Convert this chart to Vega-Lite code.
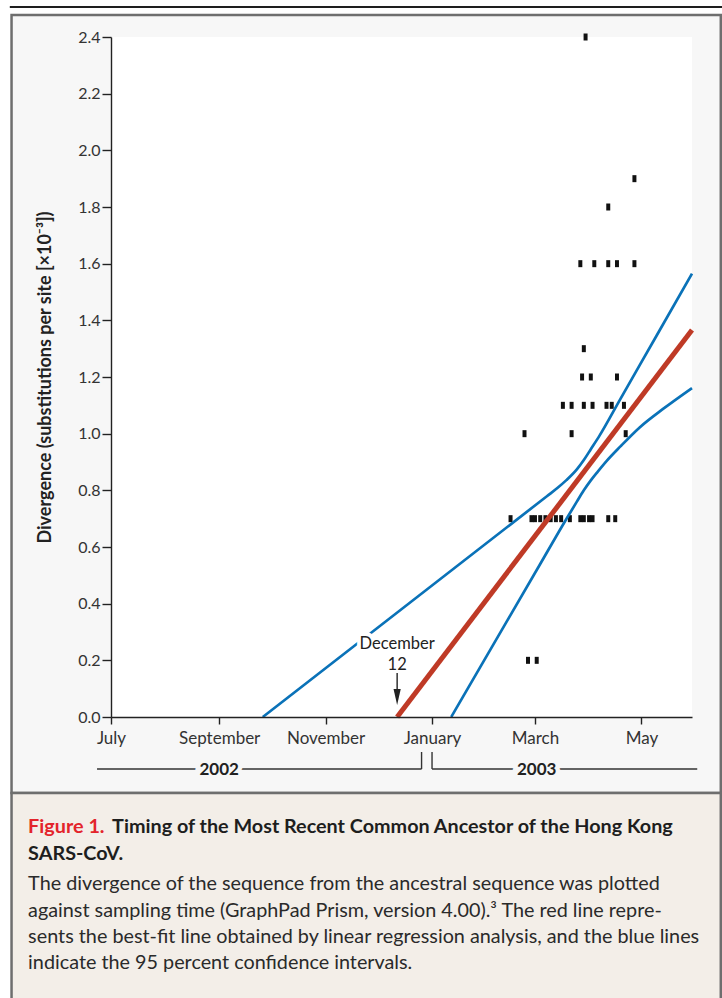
{
  "$schema": "https://vega.github.io/schema/vega-lite/v6.json",
  "width": 581,
  "height": 680,
  "autosize": {"type": "none"},
  "padding": {"left": 111, "top": 37, "right": 30, "bottom": 281},
  "background": "white",
  "config": {"view": {"stroke": null}, "font": "Lato"},
  "datasets": {
    "one": [{}],
    "points": [
      {"date": "2003-03-30T00:00", "divergence": 2.4},
      {"date": "2003-04-27T00:00", "divergence": 1.9},
      {"date": "2003-04-12T00:00", "divergence": 1.8},
      {"date": "2003-03-27T00:00", "divergence": 1.6},
      {"date": "2003-04-04T00:00", "divergence": 1.6},
      {"date": "2003-04-12T00:00", "divergence": 1.6},
      {"date": "2003-04-17T00:00", "divergence": 1.6},
      {"date": "2003-04-27T00:00", "divergence": 1.6},
      {"date": "2003-03-29T00:00", "divergence": 1.3},
      {"date": "2003-03-28T00:00", "divergence": 1.2},
      {"date": "2003-04-02T00:00", "divergence": 1.2},
      {"date": "2003-04-17T00:00", "divergence": 1.2},
      {"date": "2003-03-17T00:00", "divergence": 1.1},
      {"date": "2003-03-22T00:00", "divergence": 1.1},
      {"date": "2003-03-29T00:00", "divergence": 1.1},
      {"date": "2003-04-03T00:00", "divergence": 1.1},
      {"date": "2003-04-11T00:00", "divergence": 1.1},
      {"date": "2003-04-14T00:00", "divergence": 1.1},
      {"date": "2003-04-21T00:00", "divergence": 1.1},
      {"date": "2003-02-23T00:00", "divergence": 1.0},
      {"date": "2003-03-22T00:00", "divergence": 1.0},
      {"date": "2003-04-22T00:00", "divergence": 1.0},
      {"date": "2003-02-15T00:00", "divergence": 0.7},
      {"date": "2003-02-27T00:00", "divergence": 0.7},
      {"date": "2003-03-01T00:00", "divergence": 0.7},
      {"date": "2003-03-04T00:00", "divergence": 0.7},
      {"date": "2003-03-07T00:00", "divergence": 0.7},
      {"date": "2003-03-10T00:00", "divergence": 0.7},
      {"date": "2003-03-13T00:00", "divergence": 0.7},
      {"date": "2003-03-16T00:00", "divergence": 0.7},
      {"date": "2003-03-21T00:00", "divergence": 0.7},
      {"date": "2003-03-27T00:00", "divergence": 0.7},
      {"date": "2003-03-29T00:00", "divergence": 0.7},
      {"date": "2003-04-01T00:00", "divergence": 0.7},
      {"date": "2003-04-03T00:00", "divergence": 0.7},
      {"date": "2003-04-12T00:00", "divergence": 0.7},
      {"date": "2003-04-16T00:00", "divergence": 0.7},
      {"date": "2003-02-25T00:00", "divergence": 0.2},
      {"date": "2003-03-02T00:00", "divergence": 0.2}
    ],
    "lines": [
      {"series": "fit", "date": "2002-12-12T00:00", "divergence": 0},
      {"series": "fit", "date": "2003-05-30T00:00", "divergence": 1.366},
      {"series": "upper", "date": "2002-09-26T00:00", "divergence": 0},
      {"series": "upper", "date": "2003-03-08T00:00", "divergence": 0.78},
      {"series": "upper", "date": "2003-03-14T00:00", "divergence": 0.809},
      {"series": "upper", "date": "2003-03-19T00:00", "divergence": 0.836},
      {"series": "upper", "date": "2003-03-25T00:00", "divergence": 0.874},
      {"series": "upper", "date": "2003-03-29T00:00", "divergence": 0.907},
      {"series": "upper", "date": "2003-04-02T00:00", "divergence": 0.945},
      {"series": "upper", "date": "2003-04-07T00:00", "divergence": 0.993},
      {"series": "upper", "date": "2003-04-19T00:00", "divergence": 1.123},
      {"series": "upper", "date": "2003-05-10T00:00", "divergence": 1.349},
      {"series": "upper", "date": "2003-05-30T00:00", "divergence": 1.565},
      {"series": "lower", "date": "2003-01-12T00:00", "divergence": 0},
      {"series": "lower", "date": "2003-03-04T00:00", "divergence": 0.54},
      {"series": "lower", "date": "2003-03-19T00:00", "divergence": 0.699},
      {"series": "lower", "date": "2003-03-25T00:00", "divergence": 0.76},
      {"series": "lower", "date": "2003-03-29T00:00", "divergence": 0.8},
      {"series": "lower", "date": "2003-04-02T00:00", "divergence": 0.835},
      {"series": "lower", "date": "2003-04-06T00:00", "divergence": 0.866},
      {"series": "lower", "date": "2003-04-11T00:00", "divergence": 0.903},
      {"series": "lower", "date": "2003-04-19T00:00", "divergence": 0.955},
      {"series": "lower", "date": "2003-04-30T00:00", "divergence": 1.022},
      {"series": "lower", "date": "2003-05-14T00:00", "divergence": 1.09},
      {"series": "lower", "date": "2003-05-30T00:00", "divergence": 1.161}
    ]
  },
  "layer": [
    {
      "data": {"name": "one"},
      "mark": {"type": "rect", "fill": "#f7f7f7", "stroke": "#6e6e6e", "strokeWidth": 2.5},
      "encoding": {
        "x": {
          "datum": {"year": 2002, "month": 5, "date": 5},
          "type": "temporal",
          "scale": {"domain": [{"year": 2002, "month": 7, "date": 1}, {"year": 2003, "month": 5, "date": 30}], "nice": false},
          "axis": {
            "values": [
              {"year": 2002, "month": 7, "date": 1},
              {"year": 2002, "month": 9, "date": 1},
              {"year": 2002, "month": 11, "date": 1},
              {"year": 2003, "month": 1, "date": 1},
              {"year": 2003, "month": 3, "date": 1},
              {"year": 2003, "month": 5, "date": 1}
            ],
            "format": "%B",
            "title": null,
            "grid": false,
            "tickSize": 7,
            "tickWidth": 1.4,
            "tickColor": "#222",
            "domainColor": "#222",
            "domainWidth": 1.4,
            "labelPadding": 6,
            "labelFont": "Lato",
            "labelFontSize": 17,
            "labelColor": "#333",
            "labelFlush": false,
            "labelOverlap": false,
            "zindex": 1
          }
        },
        "x2": {"datum": {"year": 2003, "month": 6, "date": 15, "hours": 12}},
        "y": {
          "datum": 2.4776,
          "type": "quantitative",
          "scale": {"domain": [0, 2.4], "nice": false, "zero": false},
          "axis": {
            "values": [0, 0.2, 0.4, 0.6, 0.8, 1.0, 1.2, 1.4, 1.6, 1.8, 2.0, 2.2, 2.4],
            "format": ".1f",
            "title": "Divergence (substitutions per site [×10⁻³])",
            "titleFont": "Lato",
            "titleFontSize": 18,
            "titleFontWeight": "bold",
            "titleColor": "#222",
            "titlePadding": 23,
            "grid": false,
            "tickSize": 9,
            "tickWidth": 1.4,
            "tickColor": "#222",
            "domainColor": "#222",
            "domainWidth": 1.4,
            "labelPadding": 2,
            "labelFont": "Lato",
            "labelFontSize": 16,
            "labelColor": "#333",
            "labelFlush": false,
            "labelOverlap": false,
            "zindex": 1
          }
        },
        "y2": {"datum": -0.2682}
      }
    },
    {
      "data": {"name": "one"},
      "mark": {"type": "rect", "fill": "#f3eee8", "stroke": "#6e6e6e", "strokeWidth": 2.5},
      "encoding": {
        "x": {"datum": {"year": 2002, "month": 5, "date": 5}, "type": "temporal"},
        "x2": {"datum": {"year": 2003, "month": 6, "date": 15, "hours": 12}},
        "y": {"datum": -0.2682, "type": "quantitative"},
        "y2": {"datum": -1.03}
      }
    },
    {
      "data": {"name": "one"},
      "mark": {"type": "rule", "stroke": "#1e1e1e", "strokeWidth": 2},
      "encoding": {
        "x": {"datum": {"year": 2002, "month": 5, "date": 4}, "type": "temporal"},
        "x2": {"datum": {"year": 2003, "month": 6, "date": 17}},
        "y": {"datum": 2.5059, "type": "quantitative"}
      }
    },
    {
      "data": {"name": "one"},
      "mark": {"type": "rect", "fill": "white"},
      "encoding": {
        "x": {"datum": {"year": 2002, "month": 7, "date": 1}, "type": "temporal"},
        "x2": {"datum": {"year": 2003, "month": 5, "date": 30}},
        "y": {"datum": 0, "type": "quantitative"},
        "y2": {"datum": 2.4}
      }
    },
    {
      "data": {"name": "points"},
      "mark": {"type": "point", "shape": "M-0.57,-1H0.57V1H-0.57Z", "filled": true, "size": 49, "color": "#111", "opacity": 1},
      "encoding": {
        "x": {"field": "date", "type": "temporal"},
        "y": {"field": "divergence", "type": "quantitative"}
      }
    },
    {
      "data": {"name": "lines"},
      "transform": [{"filter": "datum.series !== 'fit'"}],
      "mark": {"type": "line", "stroke": "#0a72b8", "strokeWidth": 2.7, "interpolate": "monotone"},
      "encoding": {
        "x": {"field": "date", "type": "temporal"},
        "y": {"field": "divergence", "type": "quantitative"},
        "detail": {"field": "series"}
      }
    },
    {
      "data": {"name": "lines"},
      "transform": [{"filter": "datum.series === 'fit'"}],
      "mark": {"type": "line", "stroke": "#bf3a26", "strokeWidth": 5},
      "encoding": {
        "x": {"field": "date", "type": "temporal"},
        "y": {"field": "divergence", "type": "quantitative"}
      }
    },
    {
      "data": {"name": "one"},
      "mark": {"type": "text", "text": "December", "fontSize": 16.5, "font": "Lato", "align": "center", "baseline": "middle", "stroke": "white", "strokeWidth": 8, "strokeJoin": "round", "fill": "white"},
      "encoding": {
        "x": {"datum": {"year": 2002, "month": 12, "date": 12}, "type": "temporal"},
        "y": {"datum": 0.258, "type": "quantitative"}
      }
    },
    {
      "data": {"name": "one"},
      "mark": {"type": "text", "text": "December", "fontSize": 16.5, "font": "Lato", "align": "center", "baseline": "middle", "color": "#222"},
      "encoding": {
        "x": {"datum": {"year": 2002, "month": 12, "date": 12}, "type": "temporal"},
        "y": {"datum": 0.258, "type": "quantitative"}
      }
    },
    {
      "data": {"name": "one"},
      "mark": {"type": "text", "text": "12", "fontSize": 16.5, "font": "Lato", "align": "center", "baseline": "middle", "color": "#222"},
      "encoding": {
        "x": {"datum": {"year": 2002, "month": 12, "date": 12}, "type": "temporal"},
        "y": {"datum": 0.184, "type": "quantitative"}
      }
    },
    {
      "data": {"name": "one"},
      "mark": {"type": "rule", "stroke": "#222", "strokeWidth": 1.4},
      "encoding": {
        "x": {"datum": {"year": 2002, "month": 12, "date": 12}, "type": "temporal"},
        "y": {"datum": 0.155, "type": "quantitative"},
        "y2": {"datum": 0.09}
      }
    },
    {
      "data": {"name": "one"},
      "mark": {"type": "point", "shape": "M-0.45,-1L0.45,-1L0,1Z", "filled": true, "size": 256, "color": "#222", "opacity": 1},
      "encoding": {
        "x": {"datum": {"year": 2002, "month": 12, "date": 12}, "type": "temporal"},
        "y": {"datum": 0.0706, "type": "quantitative"}
      }
    },
    {
      "data": {"name": "one"},
      "mark": {"type": "rule", "stroke": "#333", "strokeWidth": 1.4},
      "encoding": {
        "x": {"datum": {"year": 2002, "month": 6, "date": 23}, "type": "temporal"},
        "x2": {"datum": {"year": 2002, "month": 12, "date": 26}},
        "y": {"datum": -0.1835, "type": "quantitative"}
      }
    },
    {
      "data": {"name": "one"},
      "mark": {"type": "rule", "stroke": "#333", "strokeWidth": 1.4},
      "encoding": {
        "x": {"datum": {"year": 2002, "month": 12, "date": 26}, "type": "temporal"},
        "y": {"datum": -0.1235, "type": "quantitative"},
        "y2": {"datum": -0.1835}
      }
    },
    {
      "data": {"name": "one"},
      "mark": {"type": "rule", "stroke": "#333", "strokeWidth": 1.4},
      "encoding": {
        "x": {"datum": {"year": 2003, "month": 1, "date": 1}, "type": "temporal"},
        "x2": {"datum": {"year": 2003, "month": 6, "date": 2}},
        "y": {"datum": -0.1835, "type": "quantitative"}
      }
    },
    {
      "data": {"name": "one"},
      "mark": {"type": "rule", "stroke": "#333", "strokeWidth": 1.4},
      "encoding": {
        "x": {"datum": {"year": 2003, "month": 1, "date": 1}, "type": "temporal"},
        "y": {"datum": -0.1235, "type": "quantitative"},
        "y2": {"datum": -0.1835}
      }
    },
    {
      "data": {"name": "one"},
      "mark": {"type": "text", "text": "2002", "fontSize": 17, "fontWeight": "bold", "font": "Lato", "align": "center", "baseline": "middle", "stroke": "#f7f7f7", "strokeWidth": 9, "fill": "#f7f7f7"},
      "encoding": {
        "x": {"datum": {"year": 2002, "month": 9, "date": 1}, "type": "temporal"},
        "y": {"datum": -0.187, "type": "quantitative"}
      }
    },
    {
      "data": {"name": "one"},
      "mark": {"type": "text", "text": "2002", "fontSize": 17, "fontWeight": "bold", "font": "Lato", "align": "center", "baseline": "middle", "color": "#222"},
      "encoding": {
        "x": {"datum": {"year": 2002, "month": 9, "date": 1}, "type": "temporal"},
        "y": {"datum": -0.187, "type": "quantitative"}
      }
    },
    {
      "data": {"name": "one"},
      "mark": {"type": "text", "text": "2003", "fontSize": 17, "fontWeight": "bold", "font": "Lato", "align": "center", "baseline": "middle", "stroke": "#f7f7f7", "strokeWidth": 9, "fill": "#f7f7f7"},
      "encoding": {
        "x": {"datum": {"year": 2003, "month": 3, "date": 2}, "type": "temporal"},
        "y": {"datum": -0.187, "type": "quantitative"}
      }
    },
    {
      "data": {"name": "one"},
      "mark": {"type": "text", "text": "2003", "fontSize": 17, "fontWeight": "bold", "font": "Lato", "align": "center", "baseline": "middle", "color": "#222"},
      "encoding": {
        "x": {"datum": {"year": 2003, "month": 3, "date": 2}, "type": "temporal"},
        "y": {"datum": -0.187, "type": "quantitative"}
      }
    },
    {
      "data": {"name": "one"},
      "mark": {"type": "text", "text": "Figure 1.", "fontSize": 19.8, "fontWeight": "bold", "font": "Lato", "align": "left", "baseline": "middle", "color": "#e3242b"},
      "encoding": {
        "x": {"datum": {"year": 2002, "month": 5, "date": 14, "hours": 12}, "type": "temporal"},
        "y": {"datum": -0.3882, "type": "quantitative"}
      }
    },
    {
      "data": {"name": "one"},
      "mark": {"type": "text", "text": "Timing of the Most Recent Common Ancestor of the Hong Kong", "dx": 84, "fontSize": 19.8, "fontWeight": "bold", "font": "Lato", "align": "left", "baseline": "middle", "color": "#1e1e1e"},
      "encoding": {
        "x": {"datum": {"year": 2002, "month": 5, "date": 14, "hours": 12}, "type": "temporal"},
        "y": {"datum": -0.3882, "type": "quantitative"}
      }
    },
    {
      "data": {"name": "one"},
      "mark": {"type": "text", "text": "SARS-CoV.", "fontSize": 19.8, "fontWeight": "bold", "font": "Lato", "align": "left", "baseline": "middle", "color": "#1e1e1e"},
      "encoding": {
        "x": {"datum": {"year": 2002, "month": 5, "date": 14, "hours": 12}, "type": "temporal"},
        "y": {"datum": -0.4835, "type": "quantitative"}
      }
    },
    {
      "data": {"name": "one"},
      "mark": {"type": "text", "text": "The divergence of the sequence from the ancestral sequence was plotted", "fontSize": 19.8, "font": "Lato", "align": "left", "baseline": "middle", "color": "#2a2a2a"},
      "encoding": {
        "x": {"datum": {"year": 2002, "month": 5, "date": 14, "hours": 12}, "type": "temporal"},
        "y": {"datum": -0.5894, "type": "quantitative"}
      }
    },
    {
      "data": {"name": "one"},
      "mark": {"type": "text", "text": "against sampling time (GraphPad Prism, version 4.00).³ The red line repre-", "fontSize": 19.8, "font": "Lato", "align": "left", "baseline": "middle", "color": "#2a2a2a"},
      "encoding": {
        "x": {"datum": {"year": 2002, "month": 5, "date": 14, "hours": 12}, "type": "temporal"},
        "y": {"datum": -0.6847, "type": "quantitative"}
      }
    },
    {
      "data": {"name": "one"},
      "mark": {"type": "text", "text": "sents the best-fit line obtained by linear regression analysis, and the blue lines", "fontSize": 19.8, "font": "Lato", "align": "left", "baseline": "middle", "color": "#2a2a2a"},
      "encoding": {
        "x": {"datum": {"year": 2002, "month": 5, "date": 14, "hours": 12}, "type": "temporal"},
        "y": {"datum": -0.7765, "type": "quantitative"}
      }
    },
    {
      "data": {"name": "one"},
      "mark": {"type": "text", "text": "indicate the 95 percent confidence intervals.", "fontSize": 19.8, "font": "Lato", "align": "left", "baseline": "middle", "color": "#2a2a2a"},
      "encoding": {
        "x": {"datum": {"year": 2002, "month": 5, "date": 14, "hours": 12}, "type": "temporal"},
        "y": {"datum": -0.8682, "type": "quantitative"}
      }
    }
  ]
}
